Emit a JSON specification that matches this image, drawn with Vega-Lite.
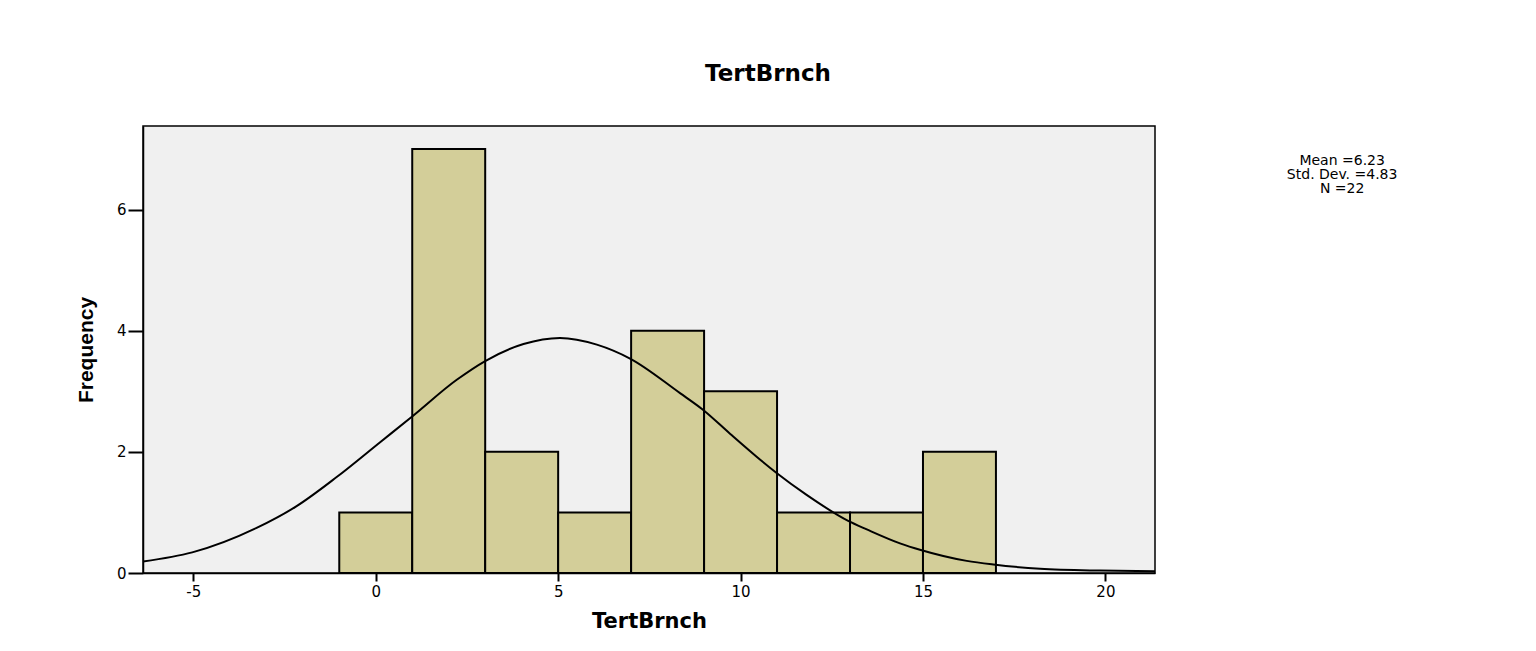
{
  "$schema": "https://vega.github.io/schema/vega-lite/v6.json",
  "autosize": {"type": "none"},
  "padding": {"left": 143, "top": 126, "right": 381, "bottom": 78},
  "width": 1012,
  "height": 447,
  "background": "white",
  "config": {
    "view": {"fill": "#F0F0F0", "stroke": "black", "strokeWidth": 1.5},
    "font": "DejaVu Sans"
  },
  "title": {
    "text": "TertBrnch",
    "anchor": "middle",
    "frame": "group",
    "dx": 119,
    "offset": 40,
    "font": "DejaVu Sans",
    "fontSize": 23,
    "fontWeight": "bold",
    "color": "black"
  },
  "datasets": {
    "bins": [
      {"bin_start": -1, "bin_end": 1, "count": 1},
      {"bin_start": 1, "bin_end": 3, "count": 7},
      {"bin_start": 3, "bin_end": 5, "count": 2},
      {"bin_start": 5, "bin_end": 7, "count": 1},
      {"bin_start": 7, "bin_end": 9, "count": 4},
      {"bin_start": 9, "bin_end": 11, "count": 3},
      {"bin_start": 11, "bin_end": 13, "count": 1},
      {"bin_start": 13, "bin_end": 15, "count": 1},
      {"bin_start": 15, "bin_end": 17, "count": 2}
    ],
    "curve": [
      {"x": -6.38, "y": 0.19},
      {"x": -5.03, "y": 0.34},
      {"x": -3.28, "y": 0.74},
      {"x": -2.18, "y": 1.10},
      {"x": -1.08, "y": 1.58},
      {"x": 0.12, "y": 2.16},
      {"x": 0.99, "y": 2.58},
      {"x": 2.22, "y": 3.19},
      {"x": 3.0, "y": 3.50},
      {"x": 4.05, "y": 3.78},
      {"x": 5.05, "y": 3.88},
      {"x": 6.06, "y": 3.77},
      {"x": 6.97, "y": 3.54},
      {"x": 8.34, "y": 2.97},
      {"x": 8.96, "y": 2.70},
      {"x": 9.71, "y": 2.30},
      {"x": 10.44, "y": 1.92},
      {"x": 10.97, "y": 1.66},
      {"x": 11.81, "y": 1.29},
      {"x": 12.95, "y": 0.86},
      {"x": 13.46, "y": 0.72},
      {"x": 14.37, "y": 0.49},
      {"x": 14.94, "y": 0.38},
      {"x": 16.2, "y": 0.20},
      {"x": 16.93, "y": 0.14},
      {"x": 18.21, "y": 0.07},
      {"x": 19.85, "y": 0.04},
      {"x": 21.36, "y": 0.03}
    ],
    "stats": [
      {"label": "Mean =6.23\nStd. Dev. =4.83\nN =22"}
    ]
  },
  "layer": [
    {
      "data": {"name": "bins"},
      "mark": {"type": "rect", "fill": "#D3CE99", "stroke": "black", "strokeWidth": 2},
      "encoding": {
        "x": {
          "field": "bin_start",
          "type": "quantitative",
          "scale": {"domain": [-6.38, 21.36], "nice": false, "zero": false},
          "axis": {
            "values": [-5, 0, 5, 10, 15, 20],
            "labelExpr": "toString(datum.value)",
            "grid": false,
            "title": "TertBrnch",
            "titleFont": "DejaVu Sans",
            "titleFontSize": 21,
            "titleFontWeight": "bold",
            "titleColor": "black",
            "titlePadding": 11,
            "labelFont": "DejaVu Sans",
            "labelFontSize": 15,
            "labelColor": "black",
            "labelPadding": 3,
            "tickSize": 8,
            "tickWidth": 2,
            "tickColor": "black",
            "domainColor": "black",
            "domainWidth": 1.5
          }
        },
        "x2": {"field": "bin_end"},
        "y": {
          "field": "count",
          "type": "quantitative",
          "scale": {"domain": [0, 7.38], "nice": false},
          "axis": {
            "values": [0, 2, 4, 6],
            "format": "d",
            "grid": false,
            "title": "Frequency",
            "titleFont": "Liberation Sans",
            "titleFontSize": 21,
            "titleFontWeight": "bold",
            "titleColor": "black",
            "titlePadding": 20,
            "labelFont": "DejaVu Sans",
            "labelFontSize": 15,
            "labelColor": "black",
            "labelPadding": 2,
            "tickSize": 15,
            "tickWidth": 2,
            "tickColor": "black",
            "domainColor": "black",
            "domainWidth": 1.5
          }
        },
        "y2": {"datum": 0}
      }
    },
    {
      "data": {"name": "curve"},
      "mark": {"type": "line", "color": "black", "strokeWidth": 2, "interpolate": "monotone", "clip": true},
      "encoding": {
        "x": {"field": "x", "type": "quantitative"},
        "y": {"field": "y", "type": "quantitative"}
      }
    },
    {
      "data": {"name": "stats"},
      "mark": {"type": "text", "align": "center", "baseline": "middle", "lineBreak": "\n", "lineHeight": 14, "fontSize": 14, "font": "DejaVu Sans", "color": "black", "clip": false},
      "encoding": {
        "x": {"datum": 26.49, "type": "quantitative"},
        "y": {"datum": 6.81, "type": "quantitative"},
        "text": {"field": "label"}
      }
    }
  ]
}
